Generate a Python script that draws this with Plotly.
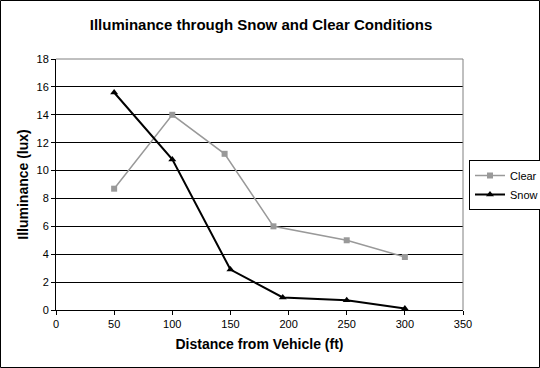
import plotly.graph_objects as go

clear_x = [50, 100, 145, 187, 250, 300]
clear_y = [8.7, 14.0, 11.2, 6.0, 5.0, 3.8]
snow_x = [50, 100, 150, 195, 250, 300]
snow_y = [15.6, 10.8, 2.9, 0.9, 0.7, 0.1]

W, H = 540, 368
L, R, T, B = 56, 77, 59, 58
pw = W - L - R
ph = H - T - B

fig = go.Figure()
fig.add_trace(go.Scatter(x=clear_x, y=clear_y, name="Clear", mode="lines+markers",
                         line=dict(color="#999999", width=1.5),
                         marker=dict(symbol="square", size=6, color="#999999")))
fig.add_trace(go.Scatter(x=snow_x, y=snow_y, name="Snow", mode="lines+markers",
                         line=dict(color="#000000", width=2),
                         marker=dict(symbol="triangle-up", size=7, color="#000000")))

font = "Liberation Sans, Arial, sans-serif"
fig.update_layout(
    width=W, height=H,
    margin=dict(l=L, r=R, t=T, b=B, autoexpand=False),
    paper_bgcolor="white", plot_bgcolor="white",
    font=dict(family=font, size=11, color="black"),
    title=dict(text="<b>Illuminance through Snow and Clear Conditions</b>",
               x=261 / W, xanchor="center", xref="container", y=1 - 25 / H, yanchor="middle",
               font=dict(family=font, size=15, color="black")),
    xaxis=dict(range=[0, 350], tickvals=[0, 50, 100, 150, 200, 250, 300, 350],
               showgrid=False, zeroline=False, showline=True, linecolor="black", linewidth=1,
               ticks="outside", ticklen=4, tickcolor="black", automargin=False,
               title=dict(text="<b>Distance from Vehicle (ft)</b>", font=dict(size=14), standoff=9)),
    yaxis=dict(range=[0, 18], tickvals=list(range(0, 19, 2)),
               showgrid=True, gridcolor="black", gridwidth=1, zeroline=False,
               showline=True, linecolor="black", linewidth=1,
               ticks="outside", ticklen=4, tickcolor="black", automargin=False,
               title=dict(text="<b>Illuminance (lux)</b>", font=dict(size=14), standoff=4)),
    legend=dict(x=469 / W, y=1 - 185 / H, xref="container", yref="container",
                xanchor="left", yanchor="middle",
                bordercolor="black", borderwidth=1, bgcolor="white",
                font=dict(size=11), tracegroupgap=0, itemwidth=30),
    showlegend=True,
)

# plot-area border (gray top/right)
fig.add_shape(type="line", xref="paper", yref="paper", x0=0, x1=1, y0=1, y1=1,
              line=dict(color="#808080", width=1), layer="above")
fig.add_shape(type="line", xref="paper", yref="paper", x0=1, x1=1, y0=0, y1=1,
              line=dict(color="#808080", width=1), layer="above")
# outer chart border
fig.add_shape(type="rect", xref="paper", yref="paper",
              x0=(0.5 - L) / pw, x1=(W - 0.5 - L) / pw,
              y0=(-(B - 0.5)) / ph, y1=(H - 0.5 - B) / ph,
              line=dict(color="black", width=1), layer="above")

fig.write_html("out.html", config={"displayModeBar": False},
               post_script="document.body.style.margin='0';document.body.style.overflow='hidden';")
